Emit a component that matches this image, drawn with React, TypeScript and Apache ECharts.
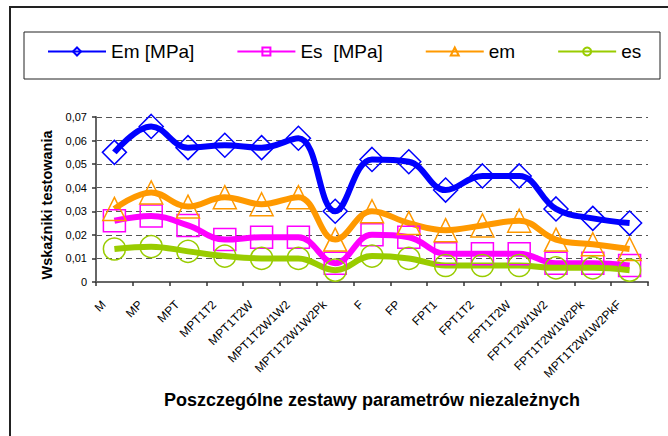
import React, { useEffect, useRef } from "react";
import * as echarts from "echarts";

const categories = [
  "M", "MP", "MPT", "MPT1T2", "MPT1T2W", "MPT1T2W1W2", "MPT1T2W1W2Pk",
  "F", "FP", "FPT1", "FPT1T2", "FPT1T2W", "FPT1T2W1W2", "FPT1T2W1W2Pk", "MPT1T2W1W2PkF",
];
const emMPa = [0.055, 0.066, 0.057, 0.058, 0.057, 0.061, 0.030, 0.052, 0.051, 0.039, 0.045, 0.045, 0.031, 0.027, 0.025];
const esMPa = [0.026, 0.028, 0.024, 0.018, 0.019, 0.019, 0.008, 0.020, 0.019, 0.012, 0.012, 0.012, 0.008, 0.008, 0.007];
const emSmall = [0.031, 0.038, 0.032, 0.036, 0.033, 0.036, 0.018, 0.030, 0.025, 0.022, 0.024, 0.026, 0.018, 0.016, 0.014];
const esSmall = [0.014, 0.015, 0.013, 0.011, 0.010, 0.010, 0.005, 0.011, 0.010, 0.007, 0.007, 0.007, 0.006, 0.006, 0.005];
const seriesNames = ["Em [MPa]", "Es  [MPa]", "em", "es"];
const yTitle = "Wskaźniki testowania";
const xTitle = "Poszczególne zestawy parametrów niezależnych";

const FONT = "'Liberation Sans', Arial, sans-serif";

function mk(name: string, data: number[], color: string, symbol: string, size: number | number[]) {
  return {
    name,
    type: "line",
    data,
    smooth: 0.4,
    symbol,
    symbolSize: size,
    lineStyle: { color, width: 6 },
    itemStyle: { color: "transparent", borderColor: color, borderWidth: 1.5 },
    emphasis: { disabled: true },
    z: 2,
  };
}

export default function App() {
  const ref = useRef<HTMLDivElement>(null);
  useEffect(() => {
    if (!ref.current) return;
    const chart = echarts.init(ref.current, null, { renderer: "svg" });
    chart.setOption({
      animation: false,
      backgroundColor: "#fff",
      textStyle: { fontFamily: FONT },
      graphic: [
        { type: "rect", shape: { x: 10, y: 7, width: 700, height: 500 }, style: { fill: "none", stroke: "#222", lineWidth: 2 }, silent: true },
        { type: "rect", shape: { x: 24, y: 32, width: 636, height: 47 }, style: { fill: "none", stroke: "#222", lineWidth: 1 }, silent: true },
        {
          type: "text",
          x: 47,
          y: 205,
          rotation: Math.PI / 2,
          silent: true,
          style: { text: yTitle, font: `bold 14.5px ${FONT}`, fill: "#000", align: "center", verticalAlign: "middle" },
        },
      ],
      legend: {
        left: 47,
        top: 42,
        padding: 0,
        itemGap: 42,
        itemWidth: 58,
        itemHeight: 10,
        textStyle: { fontFamily: FONT, fontSize: 19, color: "#000" },
        data: seriesNames,
      },
      grid: { left: 96, top: 117, right: 20, bottom: 154, containLabel: false },
      xAxis: {
        type: "category",
        data: categories,
        boundaryGap: true,
        name: xTitle,
        nameLocation: "middle",
        nameGap: 109,
        nameTextStyle: { fontFamily: FONT, fontSize: 18, fontWeight: "bold", color: "#000" },
        axisLine: { lineStyle: { color: "#666", width: 2 } },
        axisTick: { show: true, length: 4, alignWithLabel: false, lineStyle: { color: "#333", width: 1.5 } },
        axisLabel: { rotate: 45, fontSize: 12, color: "#000", margin: 10, padding: [0, 15, 0, 0], interval: 0, fontFamily: FONT },
        splitLine: { show: false },
      },
      yAxis: {
        type: "value",
        min: 0,
        max: 0.07,
        interval: 0.01,
        axisLine: { show: true, lineStyle: { color: "#666", width: 2 } },
        axisTick: { show: true, length: 4, lineStyle: { color: "#333", width: 1.5 } },
        axisLabel: {
          fontSize: 11,
          color: "#000",
          margin: 9,
          fontFamily: FONT,
          formatter: (v: number) => (v === 0 ? "0" : v.toFixed(2).replace(".", ",")),
        },
        splitLine: { show: true, lineStyle: { color: "#555", width: 1, type: [6, 4] } },
      },
      series: [
        mk(seriesNames[0], emMPa, "#0000FF", "diamond", 24),
        mk(seriesNames[1], esMPa, "#FF00FF", "rect", 22),
        mk(seriesNames[2], emSmall, "#FF9900", "triangle", 23),
        mk(seriesNames[3], esSmall, "#99CC00", "circle", 22),
      ],
    });
    return () => chart.dispose();
  }, []);
  return (
    <div
      ref={ref}
      style={{ position: "fixed", left: 0, top: 0, width: 668, height: 436 }}
    />
  );
}
